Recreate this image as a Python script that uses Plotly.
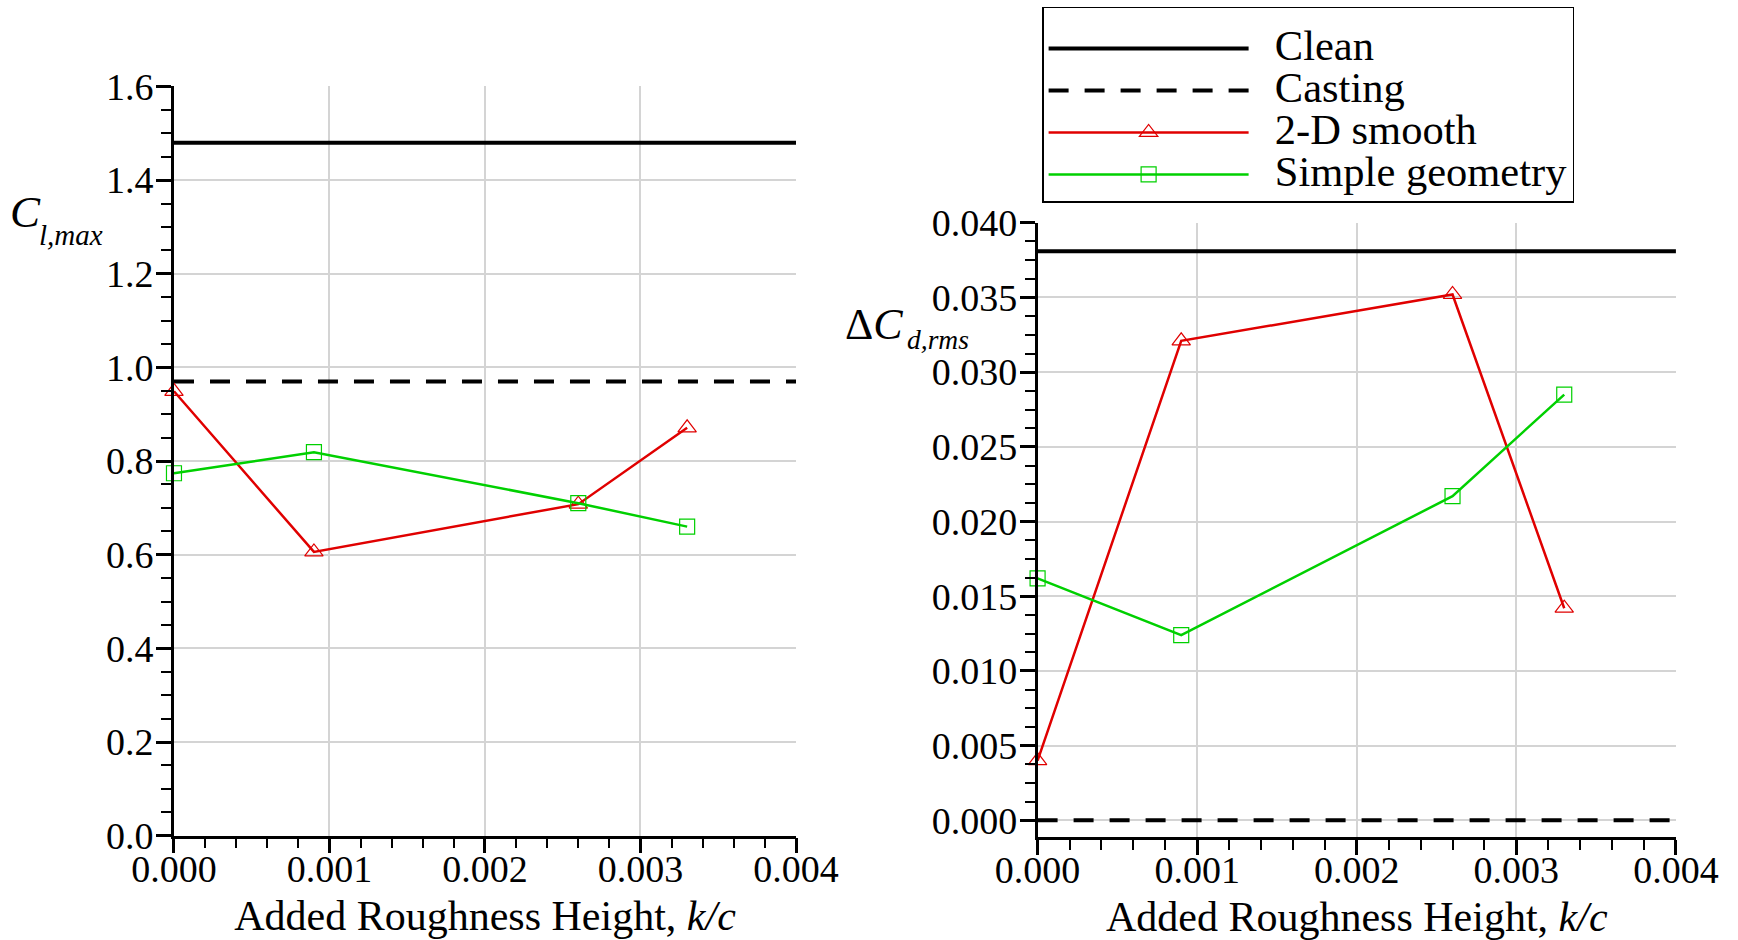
import plotly.graph_objects as go

# ---- data ----
k_c = [0.0, 0.0009, 0.0026, 0.0033]
x_ref = [0.0, 0.004]

cl_clean = [1.48, 1.48]
cl_casting = [0.97, 0.97]
cl_smooth = [0.949, 0.606, 0.708, 0.871]
cl_simple = [0.774, 0.819, 0.710, 0.660]

cd_clean = [0.0381, 0.0381]
cd_casting = [0.0, 0.0]
cd_smooth = [0.0040, 0.0321, 0.0352, 0.0142]
cd_simple = [0.0162, 0.0124, 0.0217, 0.0285]

x_ticks = [0.0, 0.001, 0.002, 0.003, 0.004]
series_names = ["Clean", "Casting", "2-D smooth", "Simple geometry"]

FONT = "Liberation Serif"
RED = "#e00000"
GREEN = "#00d000"

def lg(name):
    return '<span style="font-size:42.5px">\u00a0\u00a0' + name + '</span>'

fig = go.Figure()

def add_set(xa, ya, clean, casting, smooth, simple, show):
    fig.add_trace(go.Scatter(x=x_ref, y=clean, mode="lines", name=lg(series_names[0]),
                             line=dict(color="black", width=4), xaxis=xa, yaxis=ya,
                             showlegend=show))
    fig.add_trace(go.Scatter(x=x_ref, y=casting, mode="lines", name=lg(series_names[1]),
                             line=dict(color="black", width=4, dash="20px,16px"), xaxis=xa, yaxis=ya,
                             showlegend=show))
    fig.add_trace(go.Scatter(x=k_c, y=smooth, mode="lines+markers", name=lg(series_names[2]),
                             line=dict(color=RED, width=2.5),
                             marker=dict(symbol="triangle-up-open", size=16, color=RED, line=dict(width=1.2)),
                             xaxis=xa, yaxis=ya, cliponaxis=False, showlegend=show))
    fig.add_trace(go.Scatter(x=k_c, y=simple, mode="lines+markers", name=lg(series_names[3]),
                             line=dict(color=GREEN, width=2.5),
                             marker=dict(symbol="square-open", size=15, color=GREEN, line=dict(width=1.2)),
                             xaxis=xa, yaxis=ya, cliponaxis=False, showlegend=show))

add_set("x", "y", cl_clean, cl_casting, cl_smooth, cl_simple, True)
add_set("x2", "y2", cd_clean, cd_casting, cd_smooth, cd_simple, False)

GRID = "#d4d4d4"
common_x = dict(range=[0, 0.004], tickvals=x_ticks, tickformat=".3f", showgrid=True, automargin=False,
                gridcolor=GRID, gridwidth=2, zeroline=False, showline=True, linecolor="black",
                linewidth=2.5, ticks="outside", ticklen=15, tickwidth=2.5, tickcolor="black",
                ticklabelstandoff=-17,
                tickfont=dict(family=FONT, size=38, color="black"),
                minor=dict(ticks="outside", ticklen=10, tickwidth=2, tickcolor="black",
                           dtick=0.0002, showgrid=False),
                title=dict(text="Added Roughness Height, <i>k/c</i>",
                           font=dict(family=FONT, size=42, color="black"), standoff=12))
common_y = dict(showgrid=True, gridcolor=GRID, gridwidth=2, zeroline=False, showline=True,
                automargin=False, ticklabelstandoff=-5,
                linecolor="black", linewidth=2.5, ticks="outside", ticklen=15, tickwidth=2.5,
                tickcolor="black", tickfont=dict(family=FONT, size=38, color="black"))

def ann(text, x, y, size):
    return dict(text=text, x=x, y=y, xref="paper", yref="paper", xanchor="left",
                yanchor="middle", showarrow=False,
                font=dict(family=FONT, size=size, color="black"))

fig.update_layout(
    width=1738, height=940,
    margin=dict(l=0, r=0, t=0, b=0, pad=0),
    paper_bgcolor="white", plot_bgcolor="white",
    font=dict(family=FONT, color="black"),
    xaxis=dict(domain=[0.1001, 0.4580], anchor="y", **common_x),
    yaxis=dict(domain=[0.1110, 0.9080], anchor="x", range=[0, 1.6], dtick=0.2, tickformat=".1f",
               minor=dict(ticks="outside", ticklen=10, tickwidth=2, tickcolor="black",
                          dtick=0.05, showgrid=False), **common_y),
    xaxis2=dict(domain=[0.5970, 0.9643], anchor="y2", **common_x),
    yaxis2=dict(domain=[0.1098, 0.7630], anchor="x2", range=[-0.0011, 0.040], dtick=0.005,
                tickformat=".3f",
                minor=dict(ticks="outside", ticklen=10, tickwidth=2, tickcolor="black",
                           dtick=0.00125, showgrid=False), **common_y),
    legend=dict(x=0.5996, y=0.993, xanchor="left", yanchor="top",
                bgcolor="white", bordercolor="black", borderwidth=1.5,
                font=dict(family=FONT, size=30, color="black"),
                title=dict(text="\u00a0", font=dict(family=FONT, size=11)),
                itemwidth=200, tracegroupgap=0),
    annotations=[
        ann("<i>C</i>", 0.0045, 0.7747, 45),
        ann("<i>l,max</i>", 0.0213, 0.750, 29),
        ann("Δ<i>C</i>", 0.4850, 0.6543, 44),
        ann("<i>d,rms</i>", 0.5207, 0.6390, 27.5),
    ],
)

fig.write_html("out.html", config={"displayModeBar": False})

# remove the default page margin so the figure starts at the window corner
with open("out.html", "r", encoding="utf-8") as f:
    html = f.read()
html = html.replace("<head>", "<head><style>html,body{margin:0;padding:0;overflow:hidden;}</style>", 1)
with open("out.html", "w", encoding="utf-8") as f:
    f.write(html)
